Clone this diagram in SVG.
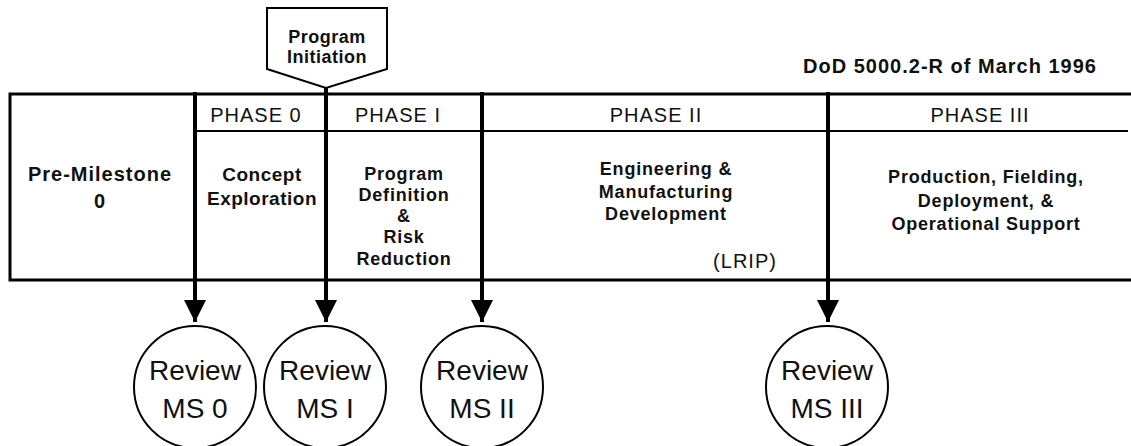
<svg xmlns="http://www.w3.org/2000/svg" width="1131" height="446" viewBox="0 0 1131 446">
<style>
.t{font-family:"Liberation Sans",Arial,sans-serif;fill:#111;text-anchor:middle}
.b{font-weight:bold;font-size:18px;letter-spacing:0.8px}
.bl{font-weight:bold;font-size:20px;letter-spacing:1px}
.h{font-size:20px;letter-spacing:1px}
.c{font-size:28px}
.ln{stroke:#000;fill:none}
</style>
<defs>
<marker id="ah" markerUnits="userSpaceOnUse" markerWidth="24" markerHeight="22" refX="22" refY="11" orient="auto">
<path d="M0,0 L22,11 L0,22 Z" fill="#000"/>
</marker>
</defs>
<g id="frame">
<rect x="10" y="94" width="1125" height="186" class="ln" stroke-width="3"/>
<line x1="193" y1="131" x2="1128" y2="131" class="ln" stroke-width="2"/>
<text class="t bl" x="950" y="73">DoD 5000.2-R of March 1996</text>
</g>
<g id="pre-milestone">
<text class="t bl" x="100" y="181">Pre-Milestone</text>
<text class="t bl" x="100" y="208">0</text>
</g>
<g id="phase0">
<text class="t h" x="256" y="122">PHASE 0</text>
<text class="t b" x="262" y="181" style="font-size:19px;letter-spacing:0.5px">Concept</text>
<text class="t b" x="262" y="205" style="font-size:19px;letter-spacing:0.5px">Exploration</text>
</g>
<g id="phase1">
<text class="t h" x="398" y="122">PHASE I</text>
<text class="t b" x="404" y="180">Program</text>
<text class="t b" x="404" y="201">Definition</text>
<text class="t b" x="404" y="222">&amp;</text>
<text class="t b" x="404" y="243">Risk</text>
<text class="t b" x="404" y="265">Reduction</text>
</g>
<g id="phase2">
<text class="t h" x="656" y="122">PHASE II</text>
<text class="t b" x="666" y="175">Engineering &amp;</text>
<text class="t b" x="666" y="198">Manufacturing</text>
<text class="t b" x="666" y="220">Development</text>
<text class="t h" x="745" y="268">(LRIP)</text>
</g>
<g id="phase3">
<text class="t h" x="980" y="122">PHASE III</text>
<text class="t b" x="986" y="183">Production, Fielding,</text>
<text class="t b" x="986" y="207">Deployment, &amp;</text>
<text class="t b" x="986" y="230">Operational Support</text>
</g>
<g id="program-initiation">
<path d="M267,8 L387,8 L387,69 L326,88 L267,69 Z" class="ln" stroke-width="2"/>
<text class="t b" x="327" y="43" style="font-size:18px;letter-spacing:0.5px">Program</text>
<text class="t b" x="327" y="63" style="font-size:18px;letter-spacing:0.5px">Initiation</text>
</g>
<g id="connectors">
<line x1="195" y1="92" x2="195" y2="322" class="ln" stroke-width="4" marker-end="url(#ah)"/>
<line x1="326" y1="88" x2="326" y2="322" class="ln" stroke-width="4" marker-end="url(#ah)"/>
<line x1="482" y1="92" x2="482" y2="322" class="ln" stroke-width="4" marker-end="url(#ah)"/>
<line x1="828" y1="92" x2="828" y2="322" class="ln" stroke-width="4" marker-end="url(#ah)"/>
</g>
<g id="ms0">
<circle cx="195" cy="387" r="61" class="ln" stroke-width="2"/>
<text class="t c" x="195" y="380">Review</text>
<text class="t c" x="195" y="418">MS 0</text>
</g>
<g id="ms1">
<circle cx="325" cy="387" r="61" class="ln" stroke-width="2"/>
<text class="t c" x="325" y="380">Review</text>
<text class="t c" x="325" y="418">MS I</text>
</g>
<g id="ms2">
<circle cx="482" cy="387" r="61" class="ln" stroke-width="2"/>
<text class="t c" x="482" y="380">Review</text>
<text class="t c" x="482" y="418">MS II</text>
</g>
<g id="ms3">
<circle cx="827" cy="387" r="61" class="ln" stroke-width="2"/>
<text class="t c" x="827" y="380">Review</text>
<text class="t c" x="827" y="418">MS III</text>
</g>
</svg>
